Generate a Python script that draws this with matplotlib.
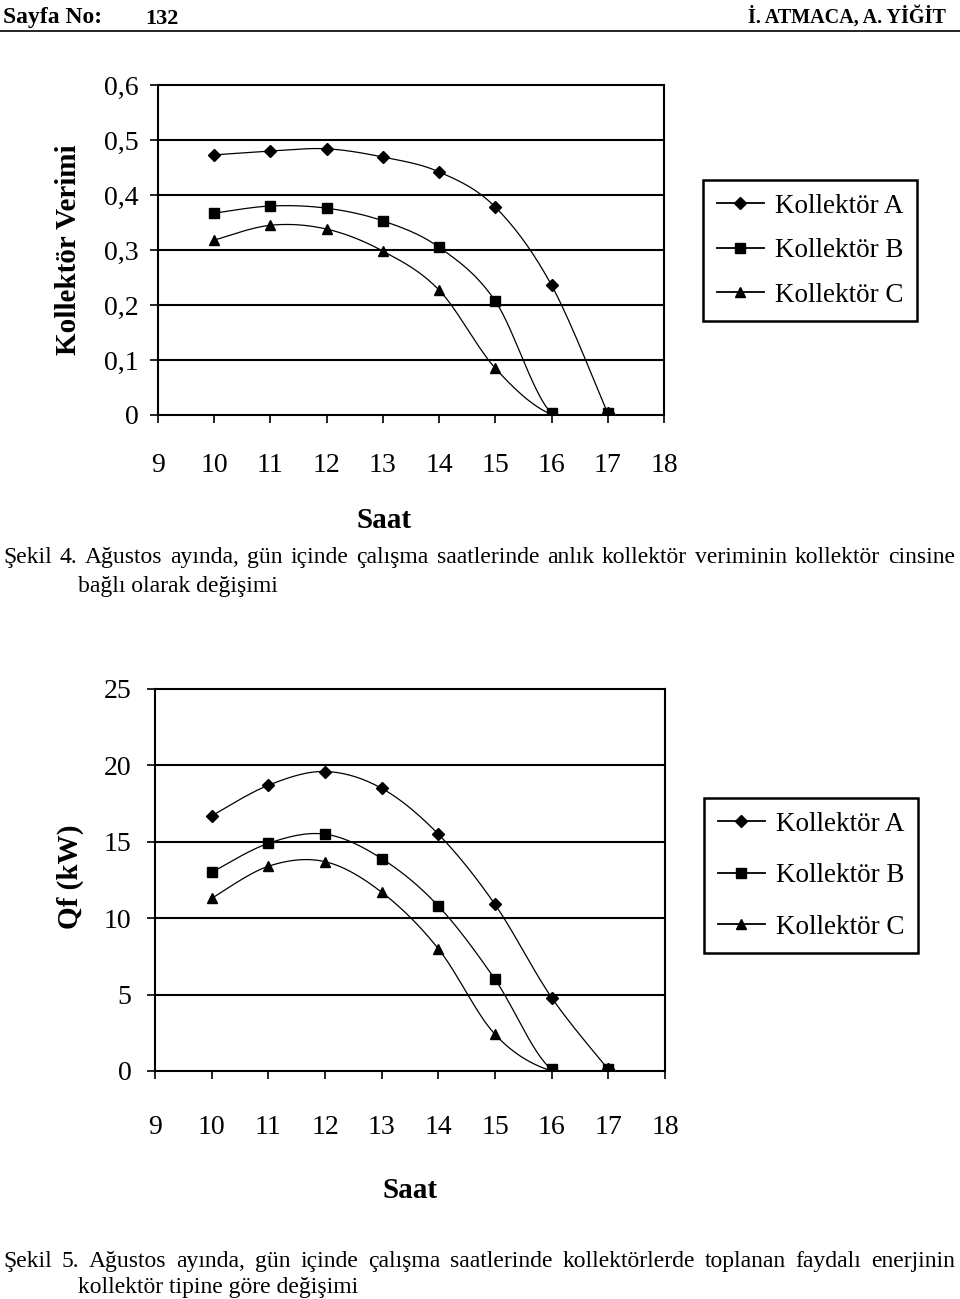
import numpy as np
import matplotlib
matplotlib.use("Agg")
import matplotlib.pyplot as plt
from matplotlib.lines import Line2D

# ---------------- data ----------------
hours = [10, 11, 12, 13, 14, 15, 16, 17]
series_names = ["Kollektör A", "Kollektör B", "Kollektör C"]

eff_A = [0.473, 0.480, 0.484, 0.469, 0.442, 0.378, 0.236, 0.003]
eff_B = [0.367, 0.380, 0.376, 0.353, 0.305, 0.207, 0.003, 0.003]
eff_C = [0.318, 0.345, 0.338, 0.298, 0.227, 0.085, 0.001, 0.001]

qf_A = [16.7, 18.7, 19.6, 18.5, 15.5, 10.9, 4.8, 0.1]
qf_B = [13.0, 14.9, 15.5, 13.9, 10.8, 6.0, 0.1, 0.1]
qf_C = [11.3, 13.4, 13.7, 11.7, 8.0, 2.4, 0.0, 0.0]

x_ticks = [9, 10, 11, 12, 13, 14, 15, 16, 17, 18]
eff_ticks = [0, 0.1, 0.2, 0.3, 0.4, 0.5, 0.6]
eff_tick_labels = ["0", "0,1", "0,2", "0,3", "0,4", "0,5", "0,6"]
qf_ticks = [0, 5, 10, 15, 20, 25]
qf_tick_labels = ["0", "5", "10", "15", "20", "25"]

header_left = "Sayfa No:"
header_num = "132"
header_right = "İ. ATMACA, A. YİĞİT"
cap4_l1 = "Şekil 4. Ağustos ayında, gün içinde çalışma saatlerinde anlık kollektör veriminin kollektör cinsine"
cap4_l2 = "bağlı olarak değişimi"
cap5_l1 = "Şekil 5. Ağustos ayında, gün içinde çalışma saatlerinde kollektörlerde toplanan faydalı enerjinin"
cap5_l2 = "kollektör tipine göre değişimi"

markers = ["D", "s", "^"]
msizes = [6, 7, 7.5]

W, H = 960, 1299
SERIF = ["Liberation Serif", "DejaVu Serif"]
plt.rcParams["font.family"] = SERIF


def fx(px):
    return px / W


def fy(py):
    return 1 - py / H


def smooth(xs, ys, n=30):
    """Excel-like smoothed line (Catmull-Rom Bezier) through the data points."""
    xs = np.asarray(xs, float)
    ys = np.asarray(ys, float)
    P = np.column_stack([xs, ys])
    out = []
    for i in range(len(P) - 1):
        p0 = P[i - 1] if i > 0 else P[i]
        p1 = P[i]
        p2 = P[i + 1]
        p3 = P[i + 2] if i + 2 < len(P) else P[i + 1]
        c1 = p1 + (p2 - p0) / 6.0
        c2 = p2 - (p3 - p1) / 6.0
        t = np.linspace(0, 1, n)[:, None]
        seg = ((1 - t) ** 3) * p1 + 3 * ((1 - t) ** 2) * t * c1 + 3 * (1 - t) * t ** 2 * c2 + t ** 3 * p2
        out.append(seg if i == 0 else seg[1:])
    arr = np.vstack(out)
    return arr[:, 0], arr[:, 1]


fig = plt.figure(figsize=(W / 100, H / 100), dpi=100)
fig.patch.set_facecolor("white")
renderer = fig.canvas.get_renderer()

# header
fig.text(fx(3), fy(23), header_left, fontsize=17, fontweight="bold", ha="left", va="baseline")
fig.text(fx(145), fy(24), header_num, fontsize=16, fontweight="bold", ha="left", va="baseline")
fig.text(fx(946), fy(23), header_right, fontsize=14.5, fontweight="bold", ha="right", va="baseline")
fig.add_artist(Line2D([0, 1], [fy(31), fy(31)], transform=fig.transFigure, color="black", lw=1.2))


def make_chart(box, series, yticks, ylabels, ymax, ylabel, ylabel_pos, xlabel_pos,
               xpad, ypad, legend_box, legend_spacing, borderpad):
    left, top, right, bottom = box
    ax = fig.add_axes([fx(left), fy(bottom), fx(right) - fx(left), fy(top) - fy(bottom)])
    for ys, m, ms in zip(series, markers, msizes):
        sx, sy = smooth(hours, ys)
        ax.plot(sx, sy, color="black", lw=0.9, zorder=3)
        ax.plot(hours, ys, linestyle="none", marker=m, markersize=ms, color="black", zorder=4)
    ax.set_xlim(9, 18)
    ax.set_ylim(0, ymax)
    ax.set_xticks(x_ticks)
    ax.set_xticklabels([str(v) for v in x_ticks])
    ax.set_yticks(yticks)
    ax.set_yticklabels(ylabels)
    for yv in yticks[1:-1]:
        ax.axhline(yv, color="black", lw=1.5, zorder=1)
    for s in ax.spines.values():
        s.set_color("black")
        s.set_linewidth(1.5)
    ax.tick_params(axis="x", direction="out", length=6, width=1.2, pad=xpad, labelsize=20)
    ax.tick_params(axis="y", direction="out", length=6, width=1.2, pad=ypad, labelsize=20)
    ax.set_facecolor("white")
    fig.text(fx(ylabel_pos[0]), fy(ylabel_pos[1]), ylabel, rotation=90, fontsize=21,
             fontweight="bold", ha="center", va="center")
    fig.text(fx(xlabel_pos[0]), fy(xlabel_pos[1]), "Saat", fontsize=21,
             fontweight="bold", ha="center", va="center")
    handles = [Line2D([0], [0], color="black", lw=1.3, marker=m, markersize=ms)
               for m, ms in zip(markers, msizes)]
    lg = fig.legend(handles, series_names, loc="upper left",
                    bbox_to_anchor=(fx(legend_box[0]), fy(legend_box[1])),
                    bbox_transform=fig.transFigure, frameon=True, fancybox=False,
                    edgecolor="black", framealpha=1, fontsize=19.5, handlelength=1.75,
                    handletextpad=0.4, labelspacing=legend_spacing, borderpad=borderpad,
                    borderaxespad=0)
    lg.get_frame().set_linewidth(1.8)
    return ax


make_chart((158, 85, 664, 415), [eff_A, eff_B, eff_C], eff_ticks, eff_tick_labels, 0.6,
           "Kollektör Verimi", (68, 250), (384, 520), 21, 8, (703, 180), 0.72, 0.5)
make_chart((155, 689, 665, 1071), [qf_A, qf_B, qf_C], qf_ticks, qf_tick_labels, 25,
           "Qf (kW)", (70, 877), (410, 1190), 26, 11, (704, 798), 0.98, 0.5)


def justified(text, x0, x1, ypx, size):
    words = text.split(" ")
    arts = [fig.text(0, fy(ypx), w, fontsize=size, ha="left", va="baseline") for w in words]
    widths = [a.get_window_extent(renderer).width for a in arts]
    gap = (x1 - x0 - sum(widths)) / (len(words) - 1)
    x = x0
    for a, w in zip(arts, widths):
        a.set_x(fx(x))
        x += w + gap


CAP = 17
justified(cap4_l1, 3, 955, 563, CAP)
fig.text(fx(78), fy(592), cap4_l2, fontsize=CAP, ha="left", va="baseline")
justified(cap5_l1, 3, 955, 1267, CAP)
fig.text(fx(78), fy(1293), cap5_l2, fontsize=CAP, ha="left", va="baseline")

fig.savefig("out.png", dpi=100, facecolor="white")
